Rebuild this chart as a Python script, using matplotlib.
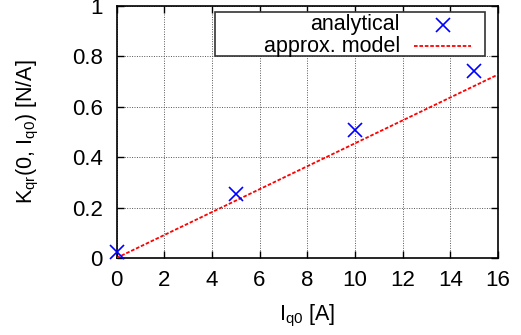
import numpy as np
import matplotlib
matplotlib.use("Agg")
import matplotlib.pyplot as plt
from matplotlib.patches import Rectangle
from matplotlib.ticker import FuncFormatter

# --- Dữ liệu ---
i_q0 = [0, 5, 10, 15]
k_analytical = [0.022, 0.253, 0.508, 0.742]
model_x = [0, 16]
model_y = [0.0, 0.728]
labels = ['analytical', 'approx. model']

plt.rcParams['font.family'] = ['Liberation Sans', 'DejaVu Sans']
plt.rcParams['font.size'] = 16
plt.rcParams['mathtext.fontset'] = 'custom'
plt.rcParams['mathtext.rm'] = 'Liberation Sans'
plt.rcParams['mathtext.it'] = 'Liberation Sans'

fig = plt.figure(figsize=(5.21, 3.35), dpi=100)
ax = fig.add_axes([116.5 / 521, 1 - 258 / 335, (498 - 116.5) / 521, (258 - 6) / 335])

mk = dict(color='blue', marker='x', linestyle='none', markersize=10, markeredgewidth=1.2)
ln = dict(color='red', linestyle=(0, (2, 1)), linewidth=1.3)

ax.plot(i_q0, k_analytical, clip_on=False, zorder=4, **mk)
ax.plot(model_x, model_y, zorder=3, **ln)

ax.set_xlim(0, 16)
ax.set_ylim(0, 1)
ax.set_xticks(np.arange(0, 17, 2))
ax.set_yticks(np.arange(0, 1.01, 0.2))
ax.yaxis.set_major_formatter(FuncFormatter(lambda v, p: f"{v:g}"))
ax.tick_params(direction='in', top=True, right=True, length=5, width=1)
ax.tick_params(axis='x', pad=9)
ax.tick_params(axis='y', pad=10)
ax.grid(True, color='#555555', linestyle=(0, (1, 1.5)), linewidth=0.7)
for s in ax.spines.values():
    s.set_linewidth(1.2)

ax.set_xlabel(r'I$_{\mathrm{q0}}$ [A]', fontsize=15.5, labelpad=8)
ax.set_ylabel(r'K$_{\mathrm{qr}}$(0, I$_{\mathrm{q0}}$) [N/A]', fontsize=15.5, labelpad=22)

# chú thích kiểu gnuplot: chữ căn phải, ký hiệu bên phải
tr = ax.transAxes
ax.add_patch(Rectangle((0.258, 0.802), 0.708, 0.174, transform=tr, facecolor='white',
                       edgecolor='#333333', linewidth=1.2, zorder=5))
rows_y = [0.925, 0.841]
for lab, yy in zip(labels, rows_y):
    ax.text(0.743, yy, lab, transform=tr, ha='right', va='center', fontsize=15.5, zorder=6)
ax.plot([0.855], [rows_y[0]], transform=tr, zorder=6, **mk)
ax.plot([0.78, 0.929], [rows_y[1], rows_y[1]], transform=tr, zorder=6, **ln)

fig.savefig('out.png', dpi=100)
